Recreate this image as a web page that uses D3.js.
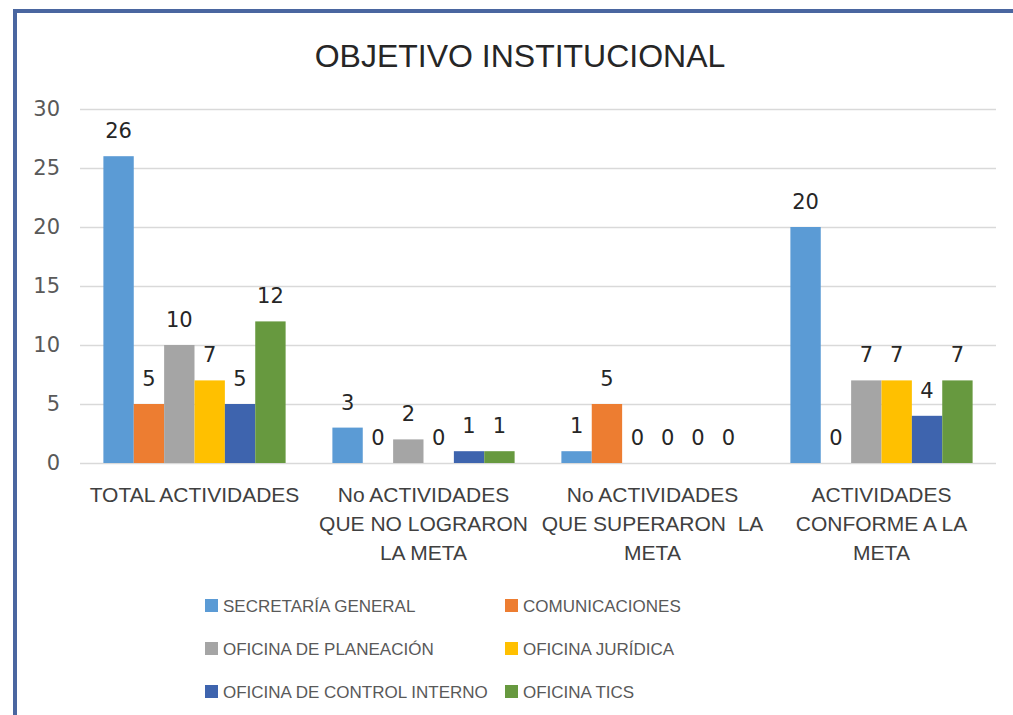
<!DOCTYPE html>
<html>
<head>
<meta charset="utf-8">
<script src="https://cdn.jsdelivr.net/npm/d3@7"></script>
<style>
  html, body { margin: 0; padding: 0; background: #fff; }
  svg { display: block; }
  .narrow { font-family: "Liberation Sans Narrow", "Arial Narrow", "Liberation Sans", sans-serif; }
</style>
</head>
<body>
<div class="objetivoChart"></div>
<script>
// chart data
const categories = [
    ['TOTAL ACTIVIDADES'],
    ['No ACTIVIDADES', 'QUE NO LOGRARON', 'LA META'],
    ['No ACTIVIDADES', 'QUE SUPERARON  LA', 'META'],
    ['ACTIVIDADES', 'CONFORME A LA', 'META']
];
const seriesNames = ['SECRETARÍA GENERAL', 'COMUNICACIONES', 'OFICINA DE PLANEACIÓN',
    'OFICINA JURÍDICA', 'OFICINA DE CONTROL INTERNO', 'OFICINA TICS'];
const secretaria = [26, 3, 1, 20];
const comunicaciones = [5, 0, 5, 0];
const planeacion = [10, 2, 0, 7];
const juridica = [7, 0, 0, 7];
const controlInterno = [5, 1, 0, 4];
const tics = [12, 1, 0, 7];
const yTicks = [0, 5, 10, 15, 20, 25, 30];

const seriesValues = [secretaria, comunicaciones, planeacion, juridica, controlInterno, tics];
const chartColors = ['#5B9BD5', '#ED7D31', '#A5A5A5', '#FFC000', '#3E64AE', '#67993F'];

let width = 1013, height = 715;
let svg = d3.select('.objetivoChart').append('svg')
    .attr('width', width)
    .attr('height', height);

// frame
svg.append('path')
    .attr('d', 'M15,' + height + 'V11H' + width)
    .attr('fill', 'none')
    .attr('stroke', '#4A66A0')
    .attr('stroke-width', 4);

// title
svg.append('text')
    .attr('class', 'narrow')
    .attr('x', 520)
    .attr('y', 67)
    .attr('text-anchor', 'middle')
    .attr('font-size', 32)
    .attr('fill', '#262626')
    .text('OBJETIVO INSTITUCIONAL');

let plot = {left: 80, right: 996, top: 109, bottom: 463};

let x0 = d3.scaleBand()
    .domain(d3.range(categories.length))
    .range([plot.left, plot.right]);

let x1 = d3.scaleBand()
    .domain(d3.range(seriesNames.length))
    .range([0, x0.bandwidth()])
    .paddingOuter(0.77);

let y = d3.scaleLinear()
    .domain([0, 30])
    .range([plot.bottom, plot.top]);

// y axis + gridlines
let yAxisGroup = svg.append('g')
    .attr('transform', 'translate(' + plot.left + ',0)')
    .call(d3.axisLeft(y).tickValues(yTicks).tickSize(-(plot.right - plot.left)).tickPadding(20));
yAxisGroup.select('.domain').remove();
yAxisGroup.selectAll('.tick line')
    .attr('stroke', '#D9D9D9')
    .attr('stroke-width', 1.3);
yAxisGroup.selectAll('text')
    .attr('font-family', '"DejaVu Sans", sans-serif')
    .attr('font-size', 21)
    .attr('fill', '#595959');

// bars
let groups = svg.append('g').selectAll('g')
    .data(categories)
    .join('g')
    .attr('transform', (d, i) => 'translate(' + x0(i) + ',0)');

groups.selectAll('rect')
    .data((d, i) => seriesValues.map((vals, s) => ({s: s, v: vals[i]})))
    .join('rect')
    .attr('x', d => x1(d.s))
    .attr('y', d => y(d.v))
    .attr('width', x1.bandwidth())
    .attr('height', d => y(0) - y(d.v))
    .attr('fill', d => chartColors[d.s]);

// data labels
groups.selectAll('text.value')
    .data((d, i) => seriesValues.map((vals, s) => ({s: s, v: vals[i]})))
    .join('text')
    .attr('class', 'value')
    .attr('x', d => x1(d.s) + x1.bandwidth() / 2)
    .attr('y', d => y(d.v) - 18)
    .attr('text-anchor', 'middle')
    .attr('font-family', '"DejaVu Sans", sans-serif')
    .attr('font-size', 21)
    .attr('fill', '#262626')
    .text(d => d.v);

// category labels
let xLabels = svg.append('g')
    .attr('class', 'narrow')
    .attr('font-size', 21)
    .attr('fill', '#404040')
    .attr('text-anchor', 'middle');
categories.forEach((lines, i) => {
    let t = xLabels.append('text')
        .attr('x', x0(i) + x0.bandwidth() / 2)
        .attr('y', 502)
        .style('white-space', 'pre');
    lines.forEach((line, j) => {
        t.append('tspan')
            .attr('x', x0(i) + x0.bandwidth() / 2)
            .attr('dy', j === 0 ? 0 : 29)
            .text(line);
    });
});

// legend
let legend = svg.append('g')
    .attr('font-family', '"Liberation Sans", Arial, sans-serif')
    .attr('font-size', 17)
    .attr('fill', '#595959');
let legendCols = [205, 505], legendRows = [605, 648, 691];
seriesNames.forEach((name, i) => {
    let lx = legendCols[i % 2], ly = legendRows[Math.floor(i / 2)];
    legend.append('rect')
        .attr('x', lx)
        .attr('y', ly - 6)
        .attr('width', 13)
        .attr('height', 13)
        .attr('fill', chartColors[i]);
    legend.append('text')
        .attr('x', lx + 18)
        .attr('y', ly + 7)
        .text(name);
});
</script>
</body>
</html>
